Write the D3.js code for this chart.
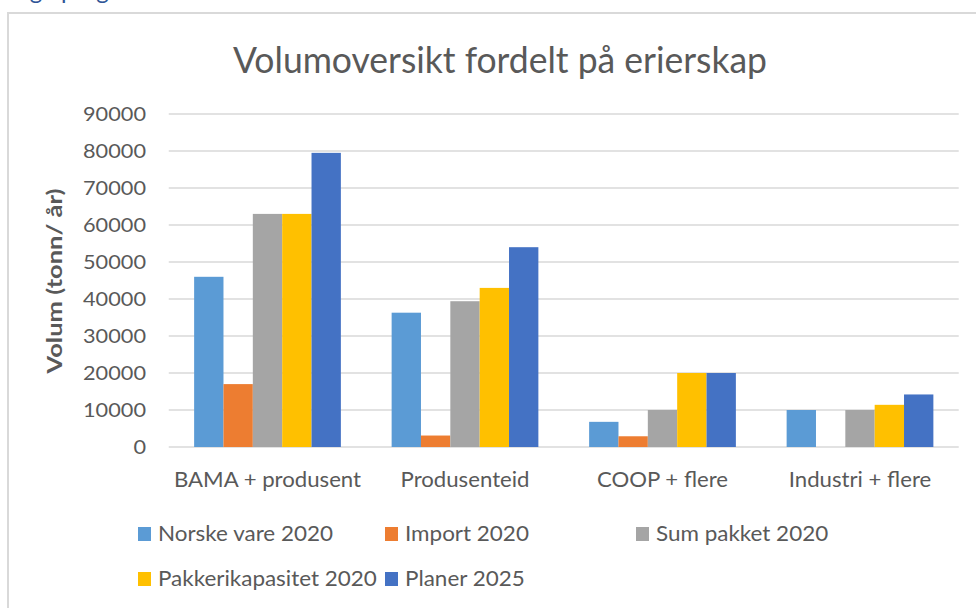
<!DOCTYPE html>
<html>
<head>
<meta charset="utf-8">
<script src="https://cdn.jsdelivr.net/npm/d3@7"></script>
<style>
  html, body { margin: 0; padding: 0; background: #ffffff; }
  svg { display: block; }
  text { font-family: Lato, "Open Sans", sans-serif; fill: #595959; }
</style>
</head>
<body>
<svg id="chart" width="976" height="608"></svg>
<script>
// Volume per ownership group (tonn/år)
const categories = ["BAMA + produsent", "Produsenteid", "COOP + flere", "Industri + flere"];
const seriesNames = ["Norske vare 2020", "Import 2020", "Sum pakket 2020", "Pakkerikapasitet 2020", "Planer 2025"];
const norskeVare2020      = [46000, 36300, 6800, 10000];
const import2020          = [17000, 3100, 2900, 0];
const sumPakket2020       = [63000, 39400, 10000, 10000];
const pakkerikapasitet2020 = [63000, 43000, 20000, 11400];
const planer2025          = [79500, 54000, 20000, 14200];
const yTicks = [0, 10000, 20000, 30000, 40000, 50000, 60000, 70000, 80000, 90000];
const colors = ["#5B9BD5", "#ED7D31", "#A5A5A5", "#FFC000", "#4472C4"];

const seriesValues = [norskeVare2020, import2020, sumPakket2020, pakkerikapasitet2020, planer2025];
const rows = categories.map((c, i) => ({
  category: c,
  values: seriesNames.map((s, k) => ({ series: s, k, value: seriesValues[k][i] }))
}));

const svg = d3.select("#chart");

// Stretch or squeeze a group of labels so a reference label has a given width
function fitGroup(sel, refText, refWidth) {
  let factor = 1;
  sel.each(function () {
    if (this.textContent === refText) factor = refWidth / this.getComputedTextLength();
  });
  sel.each(function () {
    const w = this.getComputedTextLength();
    if (w > 0) d3.select(this).attr("textLength", w * factor).attr("lengthAdjust", "spacingAndGlyphs");
  });
}

// Heading text from the page above, mostly out of view
const head = svg.append("text")
  .attr("y", -1.5)
  .style("fill", "#2F5597")
  .style("font-size", "24px");
head.append("tspan").attr("x", 24).text("ig");
head.append("tspan").attr("x", 61).text("prognose");

// Chart area frame
svg.append("rect")
  .attr("x", 8).attr("y", 13)
  .attr("width", 1000).attr("height", 700)
  .attr("fill", "#ffffff")
  .attr("stroke", "#D9D9D9")
  .attr("stroke-width", 2);

// Title
const title = svg.append("text")
  .attr("x", 500).attr("y", 73)
  .attr("text-anchor", "middle")
  .style("font-size", "37px")
  .text("Volumoversikt fordelt på erierskap");
fitGroup(title, "Volumoversikt fordelt på erierskap", 534);

// Scales
const x0 = d3.scaleBand()
  .domain(categories)
  .range([168.75, 958.75])
  .paddingInner(0.257)
  .paddingOuter(0.1285);
const x1 = d3.scaleBand()
  .domain(seriesNames)
  .range([0, x0.bandwidth()])
  .padding(0);
const y = d3.scaleLinear().domain([0, 90000]).range([447, 114]);

// Gridlines
svg.append("g")
  .selectAll("line")
  .data(yTicks)
  .join("line")
  .attr("x1", 168.75).attr("x2", 958.75)
  .attr("y1", d => y(d)).attr("y2", d => y(d))
  .attr("stroke", "#D9D9D9")
  .attr("stroke-width", 1.6);

// Y axis tick labels
const yAxis = d3.axisLeft(y).tickValues(yTicks).tickSize(0).tickPadding(0).tickFormat(d3.format("d"));
const yg = svg.append("g").attr("transform", "translate(146,0)").call(yAxis);
yg.select(".domain").remove();
yg.selectAll("text")
  .attr("x", 0)
  .attr("dy", "0.36em")
  .style("font-family", "Lato, 'Open Sans', sans-serif")
  .style("font-size", "18.5px")
  .attr("fill", "#595959");
fitGroup(yg.selectAll("text"), "90000", 63);

// Y axis title
const yTitle = svg.append("text")
  .attr("transform", "translate(62,281) rotate(-90)")
  .attr("text-anchor", "middle")
  .style("font-size", "20px")
  .style("font-weight", "700")
  .text("Volum (tonn/ år)");
fitGroup(yTitle, "Volum (tonn/ år)", 185);

// Bars
svg.append("g")
  .selectAll("g")
  .data(rows)
  .join("g")
  .attr("transform", d => `translate(${x0(d.category)},0)`)
  .selectAll("rect")
  .data(d => d.values)
  .join("rect")
  .attr("x", d => x1(d.series))
  .attr("width", x1.bandwidth())
  .attr("y", d => y(d.value))
  .attr("height", d => y(0) - y(d.value))
  .attr("fill", d => colors[d.k]);

// Category axis labels
const xAxis = d3.axisBottom(x0).tickSize(0).tickPadding(0);
const xg = svg.append("g").attr("transform", "translate(0,487)").call(xAxis);
xg.select(".domain").remove();
xg.selectAll("text")
  .attr("y", 0).attr("dy", 0)
  .style("font-family", "Lato, 'Open Sans', sans-serif")
  .style("font-size", "21px")
  .attr("fill", "#595959");
fitGroup(xg.selectAll("text"), "BAMA + produsent", 187);

// Legend
const legendPos = [[138, 0], [385, 0], [636, 0], [138, 1], [385, 1]];
const legend = svg.append("g")
  .selectAll("g")
  .data(seriesNames)
  .join("g")
  .attr("transform", (d, i) => `translate(${legendPos[i][0]},${527 + legendPos[i][1] * 45})`);
legend.append("rect")
  .attr("width", 13).attr("height", 14)
  .attr("fill", (d, i) => colors[i]);
const legendText = legend.append("text")
  .attr("x", 20).attr("y", 14)
  .style("font-size", "21px")
  .text(d => d);
fitGroup(legendText, "Norske vare 2020", 175);
</script>
</body>
</html>
